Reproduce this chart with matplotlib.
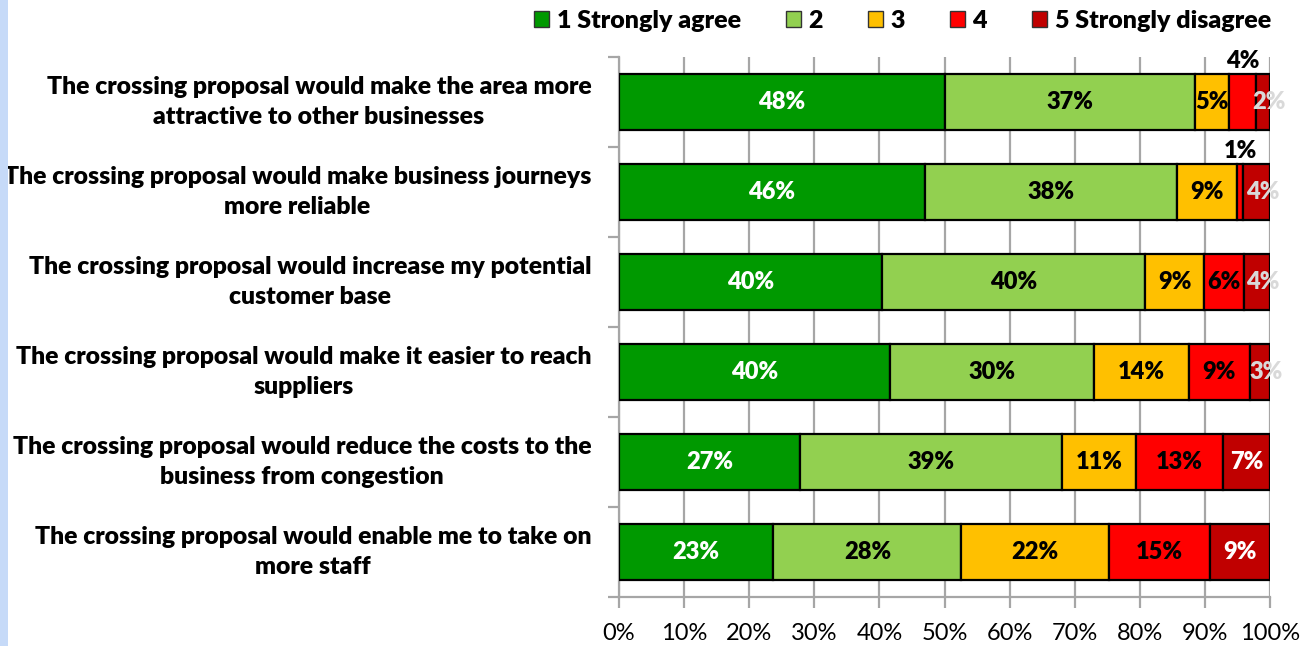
import matplotlib.pyplot as plt
from matplotlib.patches import Rectangle
from matplotlib.ticker import FixedLocator, PercentFormatter
import numpy as np

statements = [
    "The crossing proposal would make the area more\nattractive to other businesses",
    "The crossing proposal would make business journeys\nmore reliable",
    "The crossing proposal would increase my potential\ncustomer base",
    "The crossing proposal would make it easier to reach\nsuppliers",
    "The crossing proposal would reduce the costs to the\nbusiness from congestion",
    "The crossing proposal would enable me to take on\nmore staff",
]
series_names = ["1 Strongly agree", "2", "3", "4", "5 Strongly disagree"]
agree_1 = [48, 46, 40, 40, 27, 23]
agree_2 = [37, 38, 40, 30, 39, 28]
neutral_3 = [5, 9, 9, 14, 11, 22]
disagree_4 = [4, 1, 6, 9, 13, 15]
disagree_5 = [2, 4, 4, 3, 7, 9]

colors = ["#009900", "#92d050", "#ffc000", "#ff0000", "#c00000"]
label_colors = ["white", "black", "black", "black", "white"]
FONT = "Lato"

values = np.array([agree_1, agree_2, neutral_3, disagree_4, disagree_5], dtype=float)
shares = values / values.sum(axis=0) * 100.0

fig = plt.figure(figsize=(13.11, 6.46), dpi=100)
ax = fig.add_axes([0.4722, 0.0759, 0.4965, 0.8359])

fig.patches.append(Rectangle((0, 0), 8 / 1311, 1, transform=fig.transFigure,
                             facecolor="#c6daf8", edgecolor="none", zorder=0))

ypos = np.arange(len(statements))
left = np.zeros(len(statements))
bar_h = 0.62
lbl_kw = dict(ha="center", va="center", fontsize=17, fontweight="heavy",
              family=FONT, zorder=5)
for k, name in enumerate(series_names):
    ax.barh(ypos, shares[k], left=left, height=bar_h, color=colors[k],
            edgecolor="black", linewidth=1.6, label=name, zorder=3)
    for i in range(len(statements)):
        w = shares[k, i]
        cx = left[i] + w / 2
        txt = f"{int(values[k, i])}%"
        if k == 3 and values[k, i] <= 4:
            # too narrow to fit: put it above the bar
            ax.text(cx, ypos[i] - 0.46, txt, color="black", **lbl_kw)
        elif k == 4 and values[k, i] <= 4:
            ax.text(cx + 0.9, ypos[i], txt, color="#d9d9d9", **lbl_kw)
        else:
            ax.text(cx, ypos[i], txt, color=label_colors[k], **lbl_kw)
    left += shares[k]

ax.set_xlim(0, 100)
ax.set_ylim(len(statements) - 0.5, -0.5)
ax.xaxis.set_major_locator(FixedLocator(np.arange(0, 101, 10)))
ax.xaxis.set_major_formatter(PercentFormatter(decimals=0))
ax.grid(axis="x", color="#a6a6a6", linewidth=1.6, zorder=0)

ax.set_yticks(ypos)
ax.set_yticklabels(statements, fontsize=17.8, fontweight="heavy", family=FONT,
                   ha="right", va="center", multialignment="center",
                   linespacing=1.45)
ax.tick_params(axis="y", which="major", length=0, pad=20)
ax.yaxis.set_minor_locator(FixedLocator(np.arange(-0.5, len(statements), 1.0)))
ax.tick_params(axis="y", which="minor", length=8, width=1.6, color="#a6a6a6")
ax.tick_params(axis="x", length=8, width=1.6, color="#a6a6a6",
               labelsize=17, pad=11)
for lbl in ax.get_xticklabels():
    lbl.set_family(FONT)

for side in ("top", "right"):
    ax.spines[side].set_visible(False)
for side in ("left", "bottom"):
    ax.spines[side].set_color("#a6a6a6")
    ax.spines[side].set_linewidth(1.6)

leg = fig.legend(loc="upper right", bbox_to_anchor=(0.9865, 1.02), ncol=5,
                 frameon=False, handlelength=0.6, handleheight=0.6,
                 handletextpad=0.3, columnspacing=1.8,
                 prop={"family": FONT, "weight": "heavy", "size": 18})
for h in leg.legend_handles:
    h.set_linewidth(1.0)
    h.set_edgecolor("#333333")

fig.savefig("out.png", dpi=100, facecolor="white")
